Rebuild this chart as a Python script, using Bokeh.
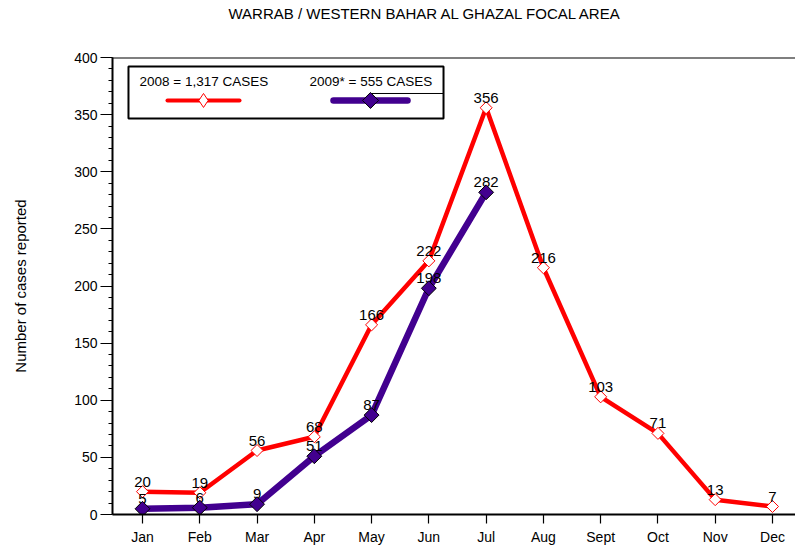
import numpy as np
from bokeh.plotting import figure
from bokeh.models import ColumnDataSource, FixedTicker, Range1d, Span, Label, Title
from bokeh.core.properties import value
from bokeh.embed import file_html
from bokeh.resources import INLINE

# ---------------- data ----------------
months = ["Jan", "Feb", "Mar", "Apr", "May", "Jun", "Jul", "Aug", "Sept",
          "Oct", "Nov", "Dec"]
cases_2008 = [20, 19, 56, 68, 166, 222, 356, 216, 103, 71, 13, 7]
cases_2009 = [5, 6, 9, 51, 87, 198, 282]
y_ticks = [0, 50, 100, 150, 200, 250, 300, 350, 400]
title_text = "WARRAB / WESTERN BAHAR AL GHAZAL FOCAL AREA"
y_label_text = "Number of cases reported"
legend_2008 = "2008 = 1,317 CASES"
legend_2009 = "2009* = 555 CASES"

RED = "#FF0000"
PURPLE = "#42008F"
FONT = "Liberation Sans"

x08 = list(range(1, len(cases_2008) + 1))
x09 = list(range(1, len(cases_2009) + 1))
src08 = ColumnDataSource(dict(x=x08, y=cases_2008, t=[str(v) for v in cases_2008]))
src09 = ColumnDataSource(dict(x=x09, y=cases_2009, t=[str(v) for v in cases_2009]))

p = figure(width=795, height=550,
           x_range=Range1d(0.476, 12.402), y_range=Range1d(0, 400),
           output_backend="svg", toolbar_location=None, title_location=None,
           min_border_left=112, min_border_right=0,
           min_border_top=57, min_border_bottom=36)
p.outline_line_color = None
p.grid.visible = False
p.background_fill_color = "white"
p.border_fill_color = "white"

# title: a thin spacer next to the frame, then the real title above it
p.add_layout(Title(text=" ", text_font_size="1px", standoff=33), "above")
p.add_layout(Title(text=title_text, text_font=FONT, text_font_size="15px",
                   text_font_style="normal", text_color="black",
                   align="left", offset=116, standoff=0), "above")

# x axis
p.xaxis.ticker = FixedTicker(ticks=x08)
p.xaxis.major_label_overrides = {i + 1: m for i, m in enumerate(months)}
p.xaxis.minor_tick_line_color = None
p.xaxis.major_tick_in = 0
p.xaxis.major_tick_out = 9
p.xaxis.major_label_standoff = 5
p.xaxis.axis_line_width = 2
p.xaxis.major_tick_line_width = 1.2
p.xaxis.major_label_text_font = FONT
p.xaxis.major_label_text_font_size = "14px"
p.xaxis.major_label_text_color = "black"

# y axis
p.yaxis.ticker = FixedTicker(ticks=y_ticks, minor_ticks=list(range(0, 401, 10)))
p.yaxis.major_tick_in = 0
p.yaxis.major_tick_out = 12
p.yaxis.minor_tick_in = 0
p.yaxis.minor_tick_out = 4
p.yaxis.major_label_standoff = 3
p.yaxis.axis_line_width = 2
p.yaxis.major_tick_line_width = 1.2
p.yaxis.minor_tick_line_width = 1
p.yaxis.major_label_text_font = FONT
p.yaxis.major_label_text_font_size = "14px"
p.yaxis.major_label_text_color = "black"
p.yaxis.axis_label = y_label_text
p.yaxis.axis_label_text_font = FONT
p.yaxis.axis_label_text_font_size = "15px"
p.yaxis.axis_label_text_font_style = "normal"
p.yaxis.axis_label_text_color = "black"
p.yaxis.axis_label_standoff = 42

# top border
p.add_layout(Span(location=400, dimension="width", line_color="black", line_width=2))

# ---------------- series ----------------
p.line("x", "y", source=src08, line_color=RED, line_width=4.5, line_join="round")
p.scatter("x", "y", source=src08, marker="square", angle=np.pi / 4, size=8.5,
          fill_color="white", line_color=RED, line_width=1)
p.text("x", "y", text="t", source=src08, text_align="center",
       text_baseline="alphabetic", y_offset=-10, text_font=value(FONT),
       text_font_size="15px", text_color="black")

p.line("x", "y", source=src09, line_color=PURPLE, line_width=6.5, line_join="round")
p.text("x", "y", text="t", source=src09, text_align="center",
       text_baseline="alphabetic", y_offset=-10, text_font=value(FONT),
       text_font_size="15px", text_color="black")
p.scatter("x", "y", source=src09, marker="square", angle=np.pi / 4, size=10.5,
          fill_color=PURPLE, line_color="black", line_width=1)

# ---------------- legend (custom layout) ----------------
p.quad(left=[0.755], right=[6.256], top=[392.1], bottom=[346.6],
       fill_color="white", line_color="black", line_width=2)
p.line([4.981, 6.256], [368.5, 368.5], line_color="black", line_width=1)
p.add_layout(Label(x=0.947, y=379.3, text=legend_2008, text_font=FONT,
                   text_font_size="13.5px", text_baseline="alphabetic",
                   text_align="left", text_color="black"))
p.add_layout(Label(x=3.916, y=379.3, text=legend_2009, text_font=FONT,
                   text_font_size="13.5px", text_baseline="alphabetic",
                   text_align="left", text_color="black"))
p.line([1.436, 2.694], [362.4, 362.4], line_color=RED, line_width=4, line_cap="round")
p.scatter([2.065], [362.4], marker="diamond", size=14, fill_color="white",
          line_color=RED, line_width=1)
p.line([4.335, 5.627], [362.4, 362.4], line_color=PURPLE, line_width=6.5, line_cap="round")
p.scatter([4.981], [362.4], marker="square", angle=np.pi / 4, size=11.3,
          fill_color=PURPLE, line_color="black", line_width=1)

open("out.html", "w").write(file_html(p, INLINE))
